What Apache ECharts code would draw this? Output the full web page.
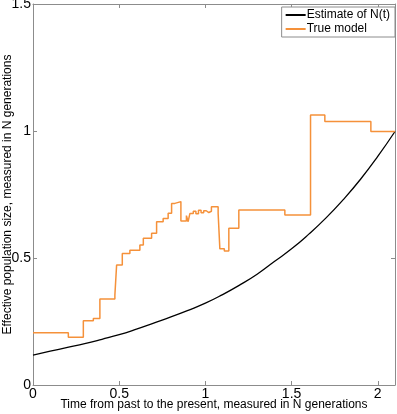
<!DOCTYPE html>
<html>
<head>
<meta charset="utf-8">
<script src="https://cdn.jsdelivr.net/npm/echarts@6/dist/echarts.min.js"></script>
<style>
  html, body { margin: 0; padding: 0; background: #fff; }
  #chart { width: 397px; height: 414px; }
</style>
</head>
<body>
<div id="chart"></div>
<script>
  // estimate of N(t)
  var estT = [0, 0.1, 0.2, 0.3, 0.4, 0.5, 0.6, 0.7, 0.8, 0.9, 1.0, 1.1, 1.2, 1.3, 1.4, 1.5, 1.6, 1.7, 1.8, 1.9, 2.0, 2.1];
  var estN = [0.118, 0.133, 0.148, 0.163, 0.18, 0.198, 0.22, 0.244, 0.268, 0.294, 0.322, 0.356, 0.394, 0.436, 0.486, 0.536, 0.594, 0.658, 0.73, 0.81, 0.9, 0.998];

  // true model, piecewise constant: value holds from t until the next t
  var trueT = [0, 0.205, 0.292, 0.35, 0.388, 0.475, 0.485, 0.518, 0.562, 0.62, 0.64, 0.688, 0.717, 0.755, 0.784, 0.804, 0.823, 0.858,
               0.89, 0.9, 0.91, 0.93, 0.945, 0.96, 0.975, 0.99, 1.005, 1.02, 1.035, 1.074, 1.084, 1.11, 1.136, 1.194, 1.461, 1.61, 1.693, 1.96, 2.1];
  var trueN = [0.206, 0.188, 0.253, 0.262, 0.339, 0.354, 0.472, 0.518, 0.531, 0.551, 0.578, 0.597, 0.643, 0.656, 0.676, 0.715, 0.722, 0.646,
               0.667, 0.643, 0.675, 0.684, 0.674, 0.688, 0.678, 0.686, 0.679, 0.684, 0.702, 0.676, 0.536, 0.528, 0.617, 0.689, 0.669, 1.063, 1.037, 0.998, 0.998];

  var xTicks = [0, 0.5, 1, 1.5, 2];
  var yTicks = [0, 0.5, 1, 1.5];

  var zip = function (a, b) { return a.map(function (v, i) { return [v, b[i]]; }); };

  var frame = '#8c8c8c';
  var font = 'Liberation Sans, Arial, sans-serif';

  var axisBase = {
    type: 'value',
    nameMoveOverlap: false,
    axisLine: { show: true, onZero: false, lineStyle: { color: frame, width: 1 } },
    axisTick: { show: true, inside: true, length: 4, lineStyle: { color: frame } },
    splitLine: { show: false }
  };

  var myChart = echarts.init(document.getElementById('chart'));
  var option = {
    animation: false,
    textStyle: { fontFamily: font },
    grid: { left: 33, right: 2, top: 4, bottom: 29, containLabel: false, outerBoundsMode: 'none' },
    legend: {
      orient: 'vertical',
      right: 2,
      top: 7,
      backgroundColor: '#fff',
      borderColor: frame,
      borderWidth: 1,
      padding: [2, 5, 2, 4],
      itemGap: 2,
      itemWidth: 20,
      itemHeight: 2,
      icon: 'rect',
      textStyle: { fontSize: 12, color: '#000', padding: [0, 0, 0, -4] },
      data: ['Estimate of N(t)', 'True model']
    },
    xAxis: [
      Object.assign({}, axisBase, {
        min: 0, max: 2.1, interval: 0.5,
        name: 'Time from past to the present, measured in N generations',
        nameLocation: 'middle',
        nameGap: 14,
        nameTextStyle: { fontSize: 12, color: '#000' },
        axisLabel: {
          fontSize: 14, color: '#000', margin: 2,
          formatter: function (v) { return xTicks.indexOf(v) >= 0 ? String(v) : ''; }
        }
      }),
      Object.assign({}, axisBase, {
        position: 'top', min: 0, max: 2.1, interval: 0.5,
        axisLabel: { show: false }
      })
    ],
    yAxis: [
      Object.assign({}, axisBase, {
        min: 0, max: 1.5, interval: 0.5,
        name: 'Effective population size, measured in N generations',
        nameLocation: 'middle',
        nameGap: 19,
        nameTextStyle: { fontSize: 12, color: '#000' },
        axisLabel: {
          fontSize: 14, color: '#000', margin: 2,
          formatter: function (v) { return yTicks.indexOf(v) >= 0 ? String(v) : ''; }
        }
      }),
      Object.assign({}, axisBase, {
        position: 'right', min: 0, max: 1.5, interval: 0.5,
        axisLabel: { show: false }
      })
    ],
    series: [
      {
        name: 'Estimate of N(t)',
        type: 'line',
        data: zip(estT, estN),
        smooth: true,
        symbol: 'none',
        color: '#000',
        lineStyle: { color: '#000', width: 1.3 }
      },
      {
        name: 'True model',
        type: 'line',
        data: zip(trueT, trueN),
        step: 'end',
        symbol: 'none',
        color: '#f5913a',
        lineStyle: { color: '#f5913a', width: 1.5 }
      }
    ]
  };
  myChart.setOption(option);
</script>
</body>
</html>
